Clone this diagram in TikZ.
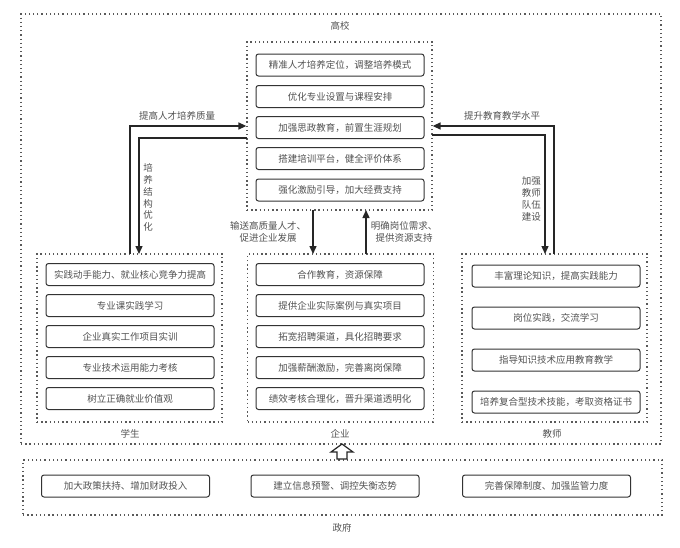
\documentclass[tikz,border=0pt]{standalone}
\usepackage{fontspec}
\setmainfont{Noto Sans CJK SC}
\usetikzlibrary{arrows.meta}
\begin{document}
\begin{tikzpicture}[x=1pt,y=-1pt,
  every node/.style={font=\fontsize{9.5}{11.8}\selectfont, text=black!68},
  grp/.style={draw=black!65, line width=1.3pt, dash pattern=on 1.3pt off 2.9pt, inner sep=0pt},
  itembox/.style={draw=black!80, line width=1pt, rounded corners=2.5pt, minimum width=168pt, minimum height=22pt, inner sep=0pt},
  conn/.style={draw=black!85, line width=1.4pt},
  arr/.style={conn, -{Triangle[length=8pt,width=7pt]}},
  lbl/.style={inner sep=0pt, align=center}]
\useasboundingbox (0,0) rectangle (680,547);

% outer groups
\node[grp, minimum width=640pt, minimum height=430pt] (HX) at (341,229) {};
\node[grp, minimum width=639pt, minimum height=55pt] (ZF) at (342.5,487.5) {};
\node[lbl] (lHX) at (340,26) {高校};
\node[lbl] (lZF) at (342,528) {政府};

% top group
\node[grp, minimum width=185pt, minimum height=168pt] (G) at (339.5,126) {};
\node[itembox] (g1) at (340,65) {精准人才培养定位，调整培养模式};
\node[itembox] (g2) at (340,96.5) {优化专业设置与课程安排};
\node[itembox] (g3) at (340,127.5) {加强思政教育，前置生涯规划};
\node[itembox] (g4) at (340,158.5) {搭建培训平台，健全评价体系};
\node[itembox] (g5) at (340,190) {强化激励引导，加大经费支持};

% students
\node[grp, minimum width=185pt, minimum height=168pt] (S) at (129.5,338) {};
\node[itembox] (s1) at (130,274.5) {实践动手能力、就业核心竞争力提高};
\node[itembox] (s2) at (130,305.5) {专业课实践学习};
\node[itembox] (s3) at (130,336.5) {企业真实工作项目实训};
\node[itembox] (s4) at (130,367.5) {专业技术运用能力考核};
\node[itembox] (s5) at (130,398.5) {树立正确就业价值观};
\node[lbl] (lS) at (130,434) {学生};

% enterprise
\node[grp, minimum width=186pt, minimum height=168pt] (E) at (340.5,338) {};
\node[itembox] (e1) at (340,274.5) {合作教育，资源保障};
\node[itembox] (e2) at (340,305.5) {提供企业实际案例与真实项目};
\node[itembox] (e3) at (340,336.5) {拓宽招聘渠道，具化招聘要求};
\node[itembox] (e4) at (340,367.5) {加强薪酬激励，完善离岗保障};
\node[itembox] (e5) at (340,398.5) {绩效考核合理化，晋升渠道透明化};
\node[lbl] (lE) at (340,434) {企业};

% teachers
\node[grp, minimum width=185pt, minimum height=168pt] (T) at (554.5,338) {};
\node[itembox] (t1) at (556,276) {丰富理论知识，提高实践能力};
\node[itembox] (t2) at (556,318) {岗位实践，交流学习};
\node[itembox] (t3) at (556,360) {指导知识技术应用教育教学};
\node[itembox] (t4) at (556,402) {培养复合型技术技能，考取资格证书};
\node[lbl] (lT) at (552,434) {教师};

% government items
\node[itembox] (z1) at (125.5,486) {加大政策扶持、增加财政投入};
\node[itembox] (z2) at (335,486) {建立信息预警、调控失衡态势};
\node[itembox] (z3) at (546.5,486) {完善保障制度、加强监管力度};

% connector anchor points
\coordinate (sA) at (130,254);
\coordinate (sB) at (139,254);
\coordinate (gL2) at (247,138);
\coordinate (tA) at (554,254);
\coordinate (tB) at (545,254);
\coordinate (gR2) at (432,135);
\coordinate (gD) at (313,210);
\coordinate (eD) at (313,254);
\coordinate (gU) at (366,210);
\coordinate (eU) at (366,254);

\draw[arr] (sA) |- (G.west);
\draw[arr] (gL2) -| (sB);
\draw[arr] (tA) |- (G.east);
\draw[arr] (gR2) -| (tB);
\draw[arr] (gD) -- (eD);
\draw[arr] (eU) -- (gU);

% labels
\node[lbl] (a1) at (177,116) {提高人才培养质量};
\node[lbl] (a2) at (148,197.5) {培\\养\\结\\构\\优\\化};
\node[lbl] (a3) at (502,116) {提升教育教学水平};
\node[lbl, anchor=east] (a4) at (541,199) {加强\\教师\\队伍\\建设};
\node[lbl] (a5) at (268,231.5) {输送高质量人才、\\促进企业发展};
\node[lbl] (a6) at (404,231.5) {明确岗位需求、\\提供资源支持};

% hollow arrow government -> groups
\draw[draw=black!85, line width=1.2pt, fill=white, line join=miter]
  (342,444) -- (353,452) -- (347,452) -- (347,459) -- (337,459) -- (337,452) -- (331,452) -- cycle;
\end{tikzpicture}
\end{document}
